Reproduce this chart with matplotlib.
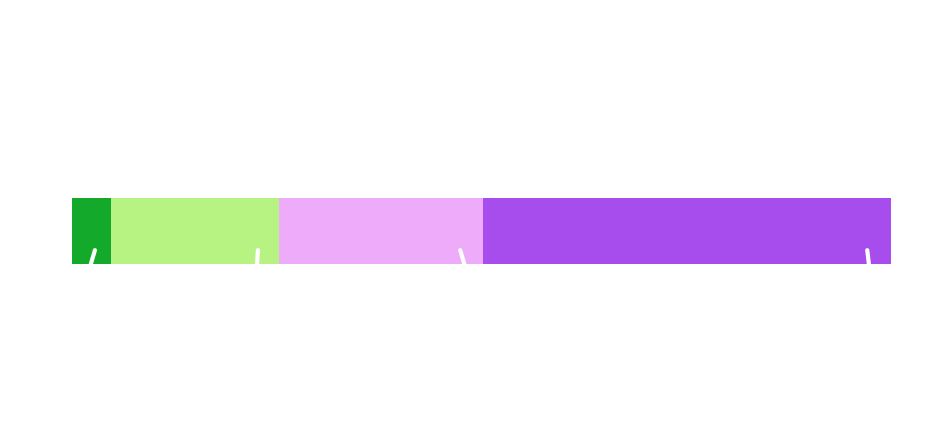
import matplotlib
matplotlib.use("Agg")
import matplotlib.pyplot as plt

# segment shares of the single stacked bar (percent)
segments = ["A", "B", "C", "D"]
shares = [4.8, 20.5, 24.9, 49.8]
colors = ["#13a92b", "#b7f383", "#eeabf9", "#a74ced"]

# white leader strokes near the bar's lower edge (x in bar units, top -> bottom)
leader_top = [2.8, 22.7, 47.4, 97.1]
leader_bottom = [2.3, 22.6, 47.9, 97.3]

fig = plt.figure(figsize=(9.44, 4.29), dpi=100)
ax = fig.add_axes([72 / 944, (429 - 264) / 429, 819 / 944, 66 / 429])

left = 0
for name, val, col in zip(segments, shares, colors):
    ax.barh(0.5, val, left=left, height=1.0, color=col, linewidth=0)
    left += val

for xt, xb in zip(leader_top, leader_bottom):
    ax.plot([xt, xb, xb + (xb - xt) * 0.6], [0.21, 0.0, -0.13], color="white",
            lw=3, solid_capstyle="round", clip_on=False)

ax.set_xlim(0, sum(shares))
ax.set_ylim(0, 1)
ax.axis("off")

fig.savefig("out.png", dpi=100, facecolor="white")
